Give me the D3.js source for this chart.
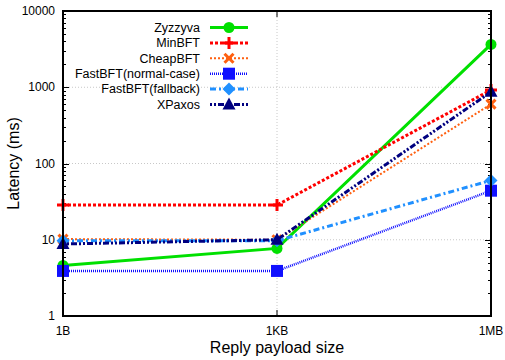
<!DOCTYPE html>
<html>
<head>
<meta charset="utf-8">
<script src="https://cdn.jsdelivr.net/npm/d3@7"></script>
<style>
  html, body { margin: 0; padding: 0; background: #fff; }
  svg { display: block; font-family: "Liberation Sans", Arial, sans-serif; }
</style>
</head>
<body>
<svg id="chart" width="505" height="360"></svg>
<script>
// Reply payload sizes on the x axis
const sizes = ["1B", "1KB", "1MB"];
// Latency (ms) per protocol, one value per payload size
const zyzzyva       = [4.6, 7.7, 3650];
const minbft        = [28.5, 28.5, 920];
const cheapbft      = [10.2, 10.0, 600];
const fastbftNormal = [3.9, 3.9, 44];
const fastbftFall   = [9.7, 9.7, 60];
const xpaxos        = [8.8, 10.0, 870];
// y axis decades
const yTicks = [1, 10, 100, 1000, 10000];

const series = [
  { name: "Zyzzyva", values: zyzzyva, color: "#00e000", width: 3, dash: null, marker: "circle" },
  { name: "MinBFT", values: minbft, color: "#ff0000", width: 3, dash: "3,2", marker: "plus" },
  { name: "CheapBFT", values: cheapbft, color: "#ff6010", width: 2, dash: "2,2", marker: "cross" },
  { name: "FastBFT(normal-case)", values: fastbftNormal, color: "#1010ff", width: 2.5, dash: "1,1", marker: "square" },
  { name: "FastBFT(fallback)", values: fastbftFall, color: "#2090ff", width: 3, dash: "6,3,2,3", marker: "diamond" },
  { name: "XPaxos", values: xpaxos, color: "#000080", width: 3, dash: "2,2,2,2,6,2", marker: "triangle" }
];

const svg = d3.select("#chart");
const m = { left: 63, right: 14, top: 11, bottom: 44 };
const W = 505, H = 360;
const x = d3.scalePoint().domain(sizes).range([m.left, W - m.right]);
const y = d3.scaleLog().domain([1, 10000]).range([H - m.bottom, m.top]);

// grid
const g = svg.append("g");
g.selectAll("line.hg").data(yTicks.slice(1, -1)).join("line")
  .attr("x1", m.left).attr("x2", W - m.right)
  .attr("y1", d => y(d)).attr("y2", d => y(d))
  .attr("stroke", "#c8c8c8").attr("stroke-width", 1).attr("stroke-dasharray", "1,2");
g.selectAll("line.vg").data(sizes.slice(1, -1)).join("line")
  .attr("x1", d => x(d)).attr("x2", d => x(d))
  .attr("y1", m.top).attr("y2", H - m.bottom)
  .attr("stroke", "#c8c8c8").attr("stroke-width", 1).attr("stroke-dasharray", "1,2");

// minor and major ticks, inward on both sides
const minor = [];
for (let dec = 1; dec < 10000; dec *= 10) for (let k = 2; k <= 9; k++) minor.push(dec * k);
const ticks = svg.append("g").attr("stroke", "#000").attr("stroke-width", 1);
[m.left, W - m.right].forEach((xx, i) => {
  const dir = i === 0 ? 1 : -1;
  ticks.selectAll(null).data(minor).join("line")
    .attr("x1", xx).attr("x2", xx + dir * 3)
    .attr("y1", d => Math.round(y(d)) + 0.5).attr("y2", d => Math.round(y(d)) + 0.5);
  ticks.selectAll(null).data(yTicks).join("line")
    .attr("x1", xx).attr("x2", xx + dir * 6)
    .attr("y1", d => Math.round(y(d)) + 0.5).attr("y2", d => Math.round(y(d)) + 0.5);
});
[m.top, H - m.bottom].forEach((yy, i) => {
  const dir = i === 0 ? 1 : -1;
  ticks.selectAll(null).data(sizes).join("line")
    .attr("x1", d => x(d)).attr("x2", d => x(d))
    .attr("y1", yy).attr("y2", yy + dir * 6);
});

// tick labels
svg.append("g").selectAll("text").data(yTicks).join("text")
  .attr("x", m.left - 8).attr("y", d => y(d)).attr("dy", "0.35em")
  .attr("text-anchor", "end").attr("font-size", 12).text(d => d);
svg.append("g").selectAll("text").data(sizes).join("text")
  .attr("x", d => x(d)).attr("y", H - m.bottom + 19)
  .attr("text-anchor", "middle").attr("font-size", 12).text(d => d);

// axis titles
svg.append("text").attr("x", (m.left + W - m.right) / 2).attr("y", 353)
  .attr("text-anchor", "middle").attr("font-size", 16).text("Reply payload size");
svg.append("text").attr("transform", `translate(19,${(m.top + H - m.bottom) / 2}) rotate(-90)`)
  .attr("text-anchor", "middle").attr("font-size", 16).text("Latency (ms)");

// marker drawing
function drawMarker(sel, type, color) {
  switch (type) {
    case "circle":
      sel.append("circle").attr("r", 5.5).attr("fill", color); break;
    case "plus":
      sel.append("path").attr("d", "M-6,0H6M0,-6V6").attr("stroke", color).attr("stroke-width", 3); break;
    case "cross":
      sel.append("path").attr("d", "M-4.5,-4.5L4.5,4.5M-4.5,4.5L4.5,-4.5").attr("stroke", color).attr("stroke-width", 3); break;
    case "square":
      sel.append("rect").attr("x", -6).attr("y", -6).attr("width", 12).attr("height", 12).attr("fill", color); break;
    case "diamond":
      sel.append("path").attr("d", "M0,-6.5L6.5,0L0,6.5L-6.5,0Z").attr("fill", color); break;
    case "triangle":
      sel.append("path").attr("d", "M0,-7L6.5,5L-6.5,5Z").attr("fill", color); break;
  }
}

// series
const line = d3.line().x((d, i) => x(sizes[i])).y(d => y(d));
const plot = svg.append("g");
series.forEach(s => {
  plot.append("path").datum(s.values).attr("d", line)
    .attr("fill", "none").attr("stroke", s.color).attr("stroke-width", s.width)
    .attr("stroke-dasharray", s.dash);
  s.values.forEach((v, i) => {
    const mk = plot.append("g").attr("transform", `translate(${x(sizes[i])},${y(v)})`);
    drawMarker(mk, s.marker, s.color);
  });
});

// frame
svg.append("rect").attr("x", m.left).attr("y", m.top)
  .attr("width", W - m.right - m.left).attr("height", H - m.bottom - m.top)
  .attr("fill", "none").attr("stroke", "#000").attr("stroke-width", 2);

// legend
const leg = svg.append("g");
series.forEach((s, i) => {
  const yy = 27.5 + i * 15.4;
  leg.append("text").attr("x", 200).attr("y", yy).attr("dy", "0.35em")
    .attr("text-anchor", "end").attr("font-size", 12.5).text(s.name);
  leg.append("line").attr("x1", 210).attr("x2", 248).attr("y1", yy).attr("y2", yy)
    .attr("stroke", s.color).attr("stroke-width", s.width).attr("stroke-dasharray", s.dash);
  const mk = leg.append("g").attr("transform", `translate(229,${yy})`);
  drawMarker(mk, s.marker, s.color);
});
</script>
</body>
</html>
